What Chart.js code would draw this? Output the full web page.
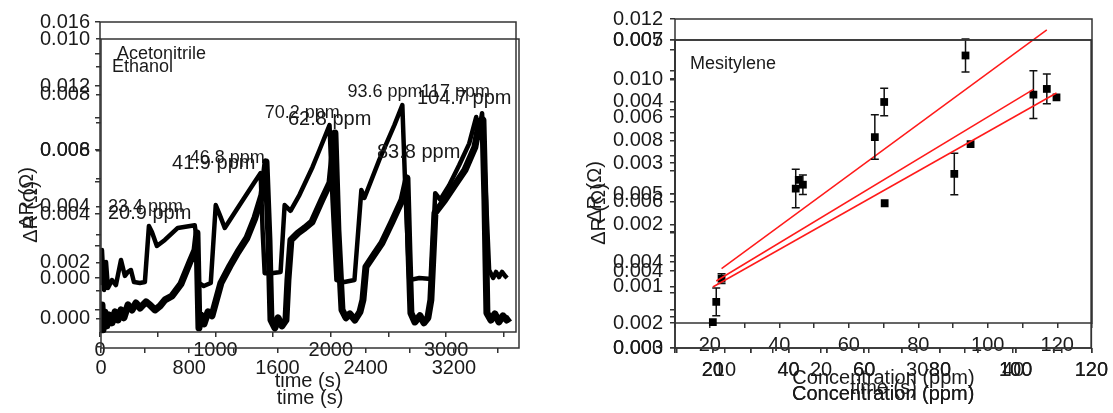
<!DOCTYPE html>
<html>
<head>
<meta charset="utf-8">
<script src="https://cdn.jsdelivr.net/npm/chart.js@4.4.0/dist/chart.umd.min.js"></script>
<style>
html, body { margin: 0; padding: 0; background: #fff; }
#wrap { position: relative; width: 1113px; height: 413px; overflow: hidden; }
#wrap canvas { position: absolute; left: 0; top: 0; }
</style>
</head>
<body>
<div id="wrap">
<canvas id="acnTrace" width="1113" height="413"></canvas>
<canvas id="etoTrace" width="1113" height="413"></canvas>
<canvas id="acnConcChart" width="1113" height="413"></canvas>
<canvas id="etoConcChart" width="1113" height="413"></canvas>
<canvas id="mesConcChart" width="1113" height="413"></canvas>
<canvas id="timeGhost" width="1113" height="413"></canvas>
</div>
<script>
// ---- left panel: sensor response vs time ----
const acnTime = [0, 17, 35, 52, 69, 104, 138, 182, 216, 242, 268, 294, 346, 389, 424, 450, 493, 562, 674, 821,
    839, 856, 899, 960, 1003, 1038, 1081, 1210, 1340, 1392, 1409, 1427, 1487, 1565, 1600, 1651, 1729, 1842, 1902, 1989,
    2015, 2049, 2118, 2205, 2265, 2291, 2421, 2551, 2620, 2646, 2680, 2767, 2870, 2905, 2948, 3026, 3113, 3199, 3260, 3286,
    3311, 3346, 3372, 3407, 3432, 3458, 3484, 3510, 3528];
const acnSignal = [-0.00044, 0.00175, -0.00075, 0.001, -0.00063, -0.00013, -0.00044, 0.00113, 0.00013, 0.00038,
    0.0005, -0.00025, -0.00031, -0.00025, 0.00325, 0.00288, 0.002, 0.00238, 0.00313, 0.0033,
    0.00238, -0.00031, -0.0005, -0.00031, 0.00456, 0.00394, 0.00313, 0.00456, 0.006, 0.00656,
    0.003, 0.0003, 0.0003, 0.00038, 0.00456, 0.0042, 0.0052, 0.00694, 0.008, 0.00956,
    0.0049, -0.00013, -0.00025, -0.00013, 0.0055, 0.005, 0.0074, 0.00956, 0.0108, 0.0055,
    -0.00013, 0, -0.00006, 0.0053, 0.0049, 0.0058, 0.00706, 0.0084, 0.01006, 0.00925,
    0.0103, 0.0049, 0.0005, 0, 0.00038, 0.00006, 0.00038, 0.00013, 0];

const etoTime = [0, 9, 18, 36, 54, 73, 100, 127, 154, 181, 208, 245, 281, 317, 354, 408, 444, 490, 535, 580,
    644, 725, 807, 852, 870, 888, 906, 934, 970, 1006, 1088, 1169, 1242, 1323, 1396, 1459, 1496, 1523, 1541, 1577,
    1605, 1641, 1677, 1695, 1722, 1786, 1849, 1913, 2003, 2076, 2121, 2148, 2185, 2221, 2257, 2302, 2348, 2375, 2402, 2475,
    2547, 2638, 2729, 2774, 2792, 2810, 2846, 2892, 2928, 2964, 2991, 3028, 3118, 3209, 3300, 3390, 3427, 3463, 3481, 3499,
    3535, 3571, 3608, 3644, 3680, 3708];
const etoSignal = [-0.00011, 0.0005, -0.00039, 0.00025, -0.00025, 0.00014, -0.00014, 0.00025, -0.00004, 0.00032,
    0.00004, 0.0005, 0.00032, 0.00057, 0.00039, 0.00061, 0.0005, 0.00032, 0.00046, 0.00068,
    0.00082, 0.00125, 0.00204, 0.00246, 0.00307, -0.00032, 0.00014, -0.00018, 0.00025, 0.00011,
    0.00129, 0.00189, 0.00239, 0.00289, 0.00361, 0.00443, 0.00561, 0.00282, -0.00004, -0.00032,
    0.00004, -0.00025, -0.00004, 0.00139, 0.00282, 0.00307, 0.00325, 0.00346, 0.00425, 0.00486,
    0.00664, 0.00318, 0.00032, 0.00004, 0.00018, -0.00004, 0.00025, 0.00068, 0.00186, 0.00229,
    0.00271, 0.00346, 0.00425, 0.00504, 0.00246, 0.00021, -0.00011, 0.00011, -0.00014, 0.00004,
    0.00068, 0.00379, 0.00425, 0.00479, 0.00532, 0.00614, 0.00693, 0.00711, 0.00425, 0.00021,
    -0.00004, 0.00018, -0.00011, 0.00011, -0.00004, 0.00004];

// peak labels, anchored in data units
const acnPeakNames = ['23.4 ppm', '46.8 ppm', '70.2 ppm', '93.6 ppm', '117 ppm'];
const acnPeakTime = [69, 778, 1427, 2144, 2784];
const acnPeakSignal = [0.00444, 0.0075, 0.01031, 0.01163, 0.01163];
const etoPeakNames = ['20.9 ppm', '41.9 ppm', '62.8 ppm', '83.8 ppm', '104.7 ppm'];
const etoPeakTime = [63, 644, 1695, 2502, 2865];
const etoPeakSignal = [0.00375, 0.00557, 0.00711, 0.00596, 0.00786];

// ---- right panel: response vs concentration ----
const acnConc = [23.4, 46.8, 70.2, 93.6, 117];
const acnResp = [0.00346, 0.00655, 0.00927, 0.0108, 0.0097];
const acnErr = [0.00016, 0.00032, 0.00045, 0.00054, 0.00049];
const acnFitConc = [23.4, 117];
const acnFitResp = [0.00379, 0.01164];

const etoConc = [20.9, 41.9, 62.8, 83.8, 104.7];
const etoResp = [0.0036, 0.00507, 0.00574, 0.00526, 0.00629];
const etoErr = [0.00018, 0.00025, 0.00029, 0.00027, 0.00031];
const etoFitConc = [20.9, 104.7];
const etoFitResp = [0.00387, 0.00636];

const mesConc = [20, 42.7, 65.4, 88.1, 110.8];
const mesResp = [0.00042, 0.00273, 0.00235, 0.00331, 0.00407];
const mesFitConc = [20, 110.8];
const mesFitResp = [0.00099, 0.00414];

const FONT = "'Liberation Sans', Arial, sans-serif";
const INK = '#1a1a1a';
const W = 1113, H = 413;

function pairs(xs, ys) {
    return xs.map(function (x, i) { return { x: x, y: ys[i] }; });
}

function axis(min, max, step, major, digits, pad, title) {
    return {
        type: 'linear', min: min, max: max,
        border: { display: false },
        grid: { drawOnChartArea: false, tickLength: 5, color: '#333', lineWidth: 1.5 },
        title: title ? { display: true, text: title, color: INK, padding: 0, font: { family: FONT, size: 20 } } : { display: false },
        // plain multiples of the step, so Origin-style odd ranges keep their round ticks
        afterBuildTicks: function (s) {
            const ticks = [];
            for (let k = Math.ceil(min / step - 1e-9); k * step <= max + 1e-12; k++) {
                ticks.push({ value: +(k * step).toFixed(10) });
            }
            s.ticks = ticks;
        },
        ticks: {
            stepSize: step, autoSkip: false, minRotation: 0, maxRotation: 0,
            padding: pad, color: INK, font: { family: FONT, size: 20 },
            callback: function (v) {
                const q = v / major;
                if (Math.abs(q - Math.round(q)) > 1e-6) return '';
                return (Math.abs(v) < 1e-12 ? 0 : v).toFixed(digits);
            }
        }
    };
}

const framePlugin = {
    id: 'frame',
    afterDraw: function (chart) {
        const a = chart.chartArea, ctx = chart.ctx;
        ctx.save();
        ctx.strokeStyle = '#333';
        ctx.lineWidth = 1.5;
        ctx.strokeRect(a.left, a.top, a.right - a.left, a.bottom - a.top);
        ctx.restore();
    }
};

const errorBarPlugin = {
    id: 'errorBars',
    beforeDatasetsDraw: function (chart) {
        const ctx = chart.ctx, xs = chart.scales.x, ys = chart.scales.y;
        chart.data.datasets.forEach(function (ds) {
            if (!ds.errorBars) return;
            ctx.save();
            ctx.strokeStyle = '#111';
            ctx.lineWidth = 1.5;
            ds.data.forEach(function (p, i) {
                const px = xs.getPixelForValue(p.x);
                const top = ys.getPixelForValue(p.y + ds.errorBars[i]);
                const bot = ys.getPixelForValue(p.y - ds.errorBars[i]);
                ctx.beginPath();
                ctx.moveTo(px, top); ctx.lineTo(px, bot);
                ctx.moveTo(px - 4, top); ctx.lineTo(px + 4, top);
                ctx.moveTo(px - 4, bot); ctx.lineTo(px + 4, bot);
                ctx.stroke();
            });
            ctx.restore();
        });
    }
};

function peakLabels(names, xs, ys, size) {
    return {
        id: 'peakLabels',
        afterDatasetsDraw: function (chart) {
            const ctx = chart.ctx;
            ctx.save();
            ctx.fillStyle = INK;
            ctx.font = size + 'px ' + FONT;
            ctx.textAlign = 'left';
            ctx.textBaseline = 'middle';
            names.forEach(function (t, i) {
                ctx.fillText(t, chart.scales.x.getPixelForValue(xs[i]), chart.scales.y.getPixelForValue(ys[i]));
            });
            ctx.restore();
        }
    };
}

// texts placed relative to the plot area (legend names, rotated y titles)
function areaText(items) {
    return {
        id: 'areaText',
        afterDraw: function (chart) {
            const a = chart.chartArea, ctx = chart.ctx;
            items.forEach(function (it) {
                ctx.save();
                ctx.font = it.size + 'px ' + FONT;
                ctx.fillStyle = INK;
                ctx.textAlign = it.rotate ? 'center' : 'left';
                ctx.textBaseline = 'middle';
                ctx.translate(a.left + it.dx, a.top + it.dy);
                if (it.rotate) ctx.rotate(-Math.PI / 2);
                ctx.fillText(it.text, 0, 0);
                ctx.restore();
            });
        }
    };
}

// one transparent canvas per overlaid Origin layer
function layer(id, area, xTitleY, xAxis, yAxis, datasets, extras, noFrame) {
    const yWidth = yAxis.display === false ? 0 : 70;
    const xHeight = xTitleY - area.bottom + 12;
    xAxis.afterFit = function (s) { s.height = xHeight; };
    yAxis.afterFit = function (s) { s.width = yWidth; };
    const plugins = [errorBarPlugin].concat(extras || []);
    if (!noFrame) plugins.unshift(framePlugin);
    return new Chart(document.getElementById(id), {
        type: 'scatter',
        data: { datasets: datasets },
        options: {
            responsive: false,
            animation: false,
            events: [],
            layout: {
                autoPadding: false,
                padding: { left: area.left - yWidth, top: area.top, right: W - area.right, bottom: H - area.bottom - xHeight }
            },
            scales: { x: xAxis, y: yAxis },
            plugins: { legend: { display: false }, tooltip: { enabled: false } }
        },
        plugins: plugins
    });
}

function trace(xs, ys, width) {
    return {
        data: pairs(xs, ys), showLine: true, pointRadius: 0, borderColor: '#000',
        borderWidth: width, tension: 0, borderJoinStyle: 'round'
    };
}

function markers(xs, ys, errs) {
    return {
        data: pairs(xs, ys), showLine: false, pointStyle: 'rect', pointRadius: 5.5,
        backgroundColor: '#000', borderWidth: 0, errorBars: errs
    };
}

function fitLine(xs, ys) {
    return { data: pairs(xs, ys), showLine: true, pointRadius: 0, borderColor: '#ff1a1a', borderWidth: 1.5 };
}

// Acetonitrile trace
layer('acnTrace', { left: 100, top: 22, right: 516, bottom: 332 }, 381,
    axis(0, 3605, 500, 1000, 0, 1, 'time (s)'),
    axis(-0.003375, 0.016, 0.002, 0.004, 3, 5),
    [trace(acnTime, acnSignal, 4.5)],
    [peakLabels(acnPeakNames, acnPeakTime, acnPeakSignal, 18),
     areaText([{ text: 'Acetonitrile', dx: 17, dy: 32, size: 18 },
               { text: 'ΔR (Ω)', dx: -73, dy: 176, size: 20, rotate: true }])]);

// Ethanol trace
layer('etoTrace', { left: 101, top: 39, right: 519, bottom: 348 }, 398,
    axis(0, 3790, 400, 800, 0, 3, 'time (s)'),
    axis(-0.00104, 0.010, 0.001, 0.002, 3, 6),
    [trace(etoTime, etoSignal, 7)],
    [peakLabels(etoPeakNames, etoPeakTime, etoPeakSignal, 20),
     areaText([{ text: 'Ethanol', dx: 11, dy: 28, size: 18 },
               { text: 'ΔR (Ω)', dx: -70, dy: 173, size: 20, rotate: true }])]);

// Acetonitrile calibration
layer('acnConcChart', { left: 675, top: 15, right: 1092, bottom: 323 }, 378,
    axis(10, 130, 10, 20, 0, 5, 'Concentration (ppm)'),
    axis(0.002, 0.012, 0.001, 0.002, 3, 7),
    [fitLine(acnFitConc, acnFitResp), markers(acnConc, acnResp, acnErr)],
    [areaText([{ text: 'ΔR (Ω)', dx: -80, dy: 173, size: 20, rotate: true }])]);

// Ethanol calibration
layer('etoConcChart', { left: 675, top: 40, right: 1092, bottom: 348 }, 394,
    axis(10, 120, 10, 20, 0, 5, 'Concentration (ppm)'),
    axis(0.003, 0.007, 0.0005, 0.001, 3, 7),
    [fitLine(etoFitConc, etoFitResp), markers(etoConc, etoResp, etoErr)],
    []);

// Mesitylene calibration
layer('mesConcChart', { left: 675, top: 40, right: 1092, bottom: 348 }, 394,
    axis(10, 120, 10, 20, 0, 5, 'Concentration (ppm)'),
    axis(0, 0.005, 0.0005, 0.001, 3, 7),
    [fitLine(mesFitConc, mesFitResp), markers(mesConc, mesResp, null)],
    [areaText([{ text: 'Mesitylene', dx: 15, dy: 24, size: 18 },
               { text: 'ΔR (Ω)', dx: -76, dy: 174, size: 20, rotate: true }])]);

// stray time axis left over in the right layer
const ghostY = axis(0, 1, 1, 1, 0, 0);
ghostY.display = false;
layer('timeGhost', { left: 675, top: 40, right: 1092, bottom: 348 }, 388,
    axis(4.8, 48.2, 5, 10, 0, 5, 'time (s)'),
    ghostY, [], [], true);
</script>
</body>
</html>
